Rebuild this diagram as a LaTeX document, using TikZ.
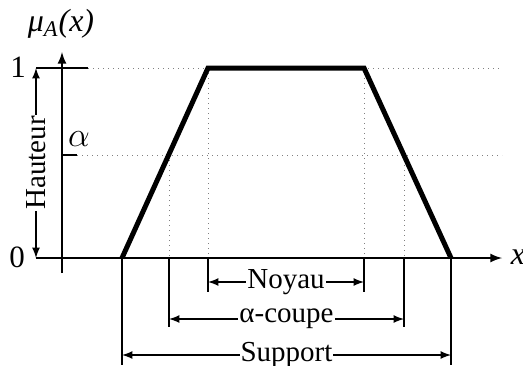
\documentclass[tikz,border=0pt]{standalone}
\usepackage{fontspec}
\setmainfont{Liberation Serif}
\usetikzlibrary{arrows.meta, positioning}

\begin{document}
\begin{tikzpicture}[x=0.5pt, y=-0.5pt, >=latex, font=\fontsize{14.5}{17}\selectfont,
    axis/.style={line width=1pt},
    guide/.style={gray, dotted, line width=0.5pt},
    member/.style={line width=2.5pt},
    dimline/.style={<->, line width=0.8pt},
    dimlabel/.style={fill=white, inner sep=0.5pt}]

\useasboundingbox (0,0) rectangle (523,365);

% --- KEY POINTS ---
\coordinate (o) at (62,258);
\coordinate (xstart) at (36,258);
\coordinate (xend) at (502,258);
\coordinate (ytop) at (62,52);
\coordinate (ybot) at (62,273);
\coordinate (a) at (122,258);   % support left
\coordinate (b) at (208,68);    % core left
\coordinate (c) at (364,68);    % core right
\coordinate (d) at (451,258);   % support right
\coordinate (al) at (169,155);  % alpha-cut left
\coordinate (ar) at (404,155);  % alpha-cut right
\coordinate (one) at (36,68);
\coordinate (onetick) at (88,68);
\coordinate (alphatick) at (77,155);
\coordinate (noyauy) at (0,282);
\coordinate (noyaubot) at (0,292);
\coordinate (coupey) at (0,319);
\coordinate (coupebot) at (0,327);
\coordinate (supporty) at (0,355);
\coordinate (supportbot) at (0,365);

% --- GUIDE LINES ---
\draw[guide] (onetick) -- (xend |- onetick);
\draw[guide] (alphatick) -- (xend |- alphatick);
\draw[guide] (al) -- (al |- o);
\draw[guide] (ar) -- (ar |- o);
\draw[guide] (b) -- (b |- o);
\draw[guide] (c) -- (c |- o);

% --- AXES ---
\draw[axis, ->] (xstart) -- (xend);
\draw[axis, ->] (ybot) -- (ytop);
\draw[axis] (one) -- (onetick);
\draw[axis] (o |- alphatick) -- (alphatick);

\node[font=\fontsize{16}{19}\selectfont] (mu) at (61,24) {\itshape μ\textsubscript{A}(x)};
\node[font=\fontsize{15.5}{18}\selectfont] (lone) at (18,67) {1};
\node[font=\fontsize{15.5}{18}\selectfont] (lzero) at (17,257) {0};
\node[font=\fontsize{19}{22}\selectfont] (lalpha) at (79,139) {$\alpha$};
\node[font=\fontsize{16}{19}\selectfont] (lx) at (518,257) {\itshape x};

% --- MEMBERSHIP FUNCTION ---
\draw[member] (a) -- (b) -- (c) -- (d);

% --- HEIGHT ---
\draw[dimline] (xstart) -- (one) node[midway, dimlabel, rotate=90] {Hauteur};

% --- EXTENSION LINES ---
\draw[axis] (a) -- (a |- supportbot);
\draw[axis] (d) -- (d |- supportbot);
\draw[axis] (al |- o) -- (al |- coupebot);
\draw[axis] (ar |- o) -- (ar |- coupebot);
\draw[axis] (b |- o) -- (b |- noyaubot);
\draw[axis] (c |- o) -- (c |- noyaubot);

% --- DIMENSIONS ---
\draw[dimline] (b |- noyauy) -- (c |- noyauy) node[midway, dimlabel] {Noyau};
\draw[dimline] (al |- coupey) -- (ar |- coupey) node[midway, dimlabel] {α-coupe};
\draw[dimline] (a |- supporty) -- (d |- supporty) node[midway, dimlabel] {Support};

\end{tikzpicture}
\end{document}
